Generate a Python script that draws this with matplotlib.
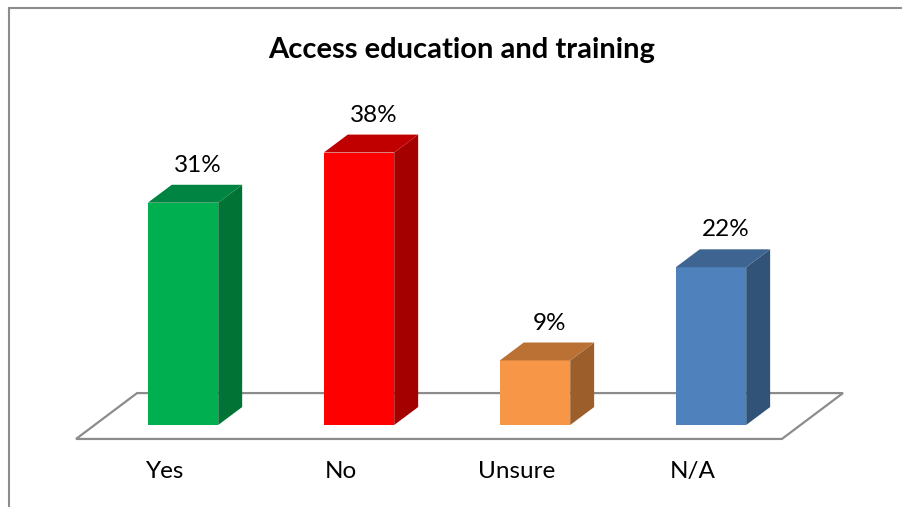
import matplotlib
matplotlib.use("Agg")
import matplotlib.pyplot as plt
from matplotlib.patches import Polygon
from matplotlib.lines import Line2D

categories = ["Yes", "No", "Unsure", "N/A"]
values = [31, 38, 9, 22]
front_colors = ["#00B050", "#FF0000", "#F79646", "#4F81BD"]
side_colors = ["#007335", "#A50000", "#9C5F2C", "#325378"]
top_colors = ["#008441", "#C00000", "#BB7034", "#3E6591"]
title = "Access education and training"

plt.rcParams['font.family'] = ['Lato', 'DejaVu Sans']

fig = plt.figure(figsize=(9.03, 5.07), dpi=100)
ax = fig.add_axes([0, 0, 1, 1])
ax.set_xlim(-1.040, 4.091)
ax.set_ylim(-11.44, 59.27)
ax.axis('off')

x = list(range(len(categories)))
w = 0.40
ddx, ddy = 0.136, 2.5          # bar depth
fdx, fdy = 0.347, 6.4          # floor depth
floor_y = -1.95
fl, fr = -0.608, 3.403

# floor
floor = Polygon([(fl, floor_y), (fr, floor_y), (fr + fdx, floor_y + fdy), (fl + fdx, floor_y + fdy)],
                closed=True, facecolor='white', edgecolor='#8C8C8C', lw=1.6, zorder=1)
ax.add_patch(floor)

# bars
ax.bar(x, values, width=w, color=front_colors, zorder=3, edgecolor='none')
for xi, v, sc, tc in zip(x, values, side_colors, top_colors):
    r = xi + w / 2
    l = xi - w / 2
    side = Polygon([(r, 0), (r + ddx, ddy), (r + ddx, v + ddy), (r, v)], closed=True,
                   facecolor=sc, edgecolor='none', zorder=3)
    top = Polygon([(l, v), (r, v), (r + ddx, v + ddy), (l + ddx, v + ddy)], closed=True,
                  facecolor=tc, edgecolor='none', zorder=3)
    ax.add_patch(side)
    ax.add_patch(top)
    ax.text(xi + 0.085, v + 5.2, f"{v}%", ha='center', va='center', fontsize=17.5, color='black')

for xi, c in zip(x, categories):
    ax.text(xi - 0.102, -6.55, c, ha='center', va='center', fontsize=17.5, color='black')

fig.text(0.511, 1 - 50 / 507, title, ha='center', va='center', fontsize=21, fontweight='bold')

# chart border
fig.add_artist(Line2D([8.5 / 903, 1], [1 - 7.5 / 507, 1 - 7.5 / 507], color='#8C8C8C', lw=1.5))
fig.add_artist(Line2D([8.5 / 903, 8.5 / 903], [0, 1 - 7.5 / 507], color='#8C8C8C', lw=1.5))

fig.savefig("out.png", dpi=100)
